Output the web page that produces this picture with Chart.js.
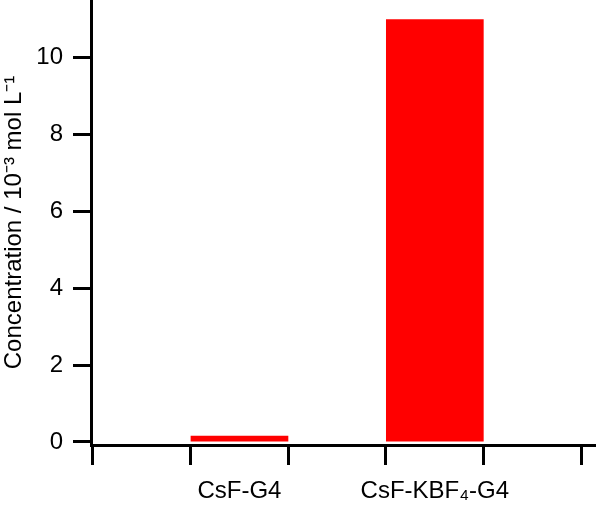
<!DOCTYPE html>
<html>
<head>
<meta charset="utf-8">
<script src="https://cdn.jsdelivr.net/npm/chart.js@4.4.0/dist/chart.umd.min.js"></script>
<style>
    html, body { margin: 0; padding: 0; background: #fff; }
    #wrap { width: 596px; height: 506px; }
</style>
</head>
<body>
<div id="wrap"><canvas id="chart" width="596" height="506"></canvas></div>
<script>
var categories = ['CsF-G4', 'CsF-KBF\u2084-G4'];
var slotPos = [1.5, 3.5];            // category centres on the x axis
var concentration = [0.16, 11.0];    // 10^-3 mol L^-1
var xBoundaries = [0, 1, 2, 3, 4, 5];
var yTicks = [0, 2, 4, 6, 8, 10];

var fontFamily = '"Liberation Sans", Arial, sans-serif';

var chart = new Chart(document.getElementById('chart'), {
    type: 'bar',
    data: {
        datasets: [{
            data: slotPos.map(function (x, i) { return { x: x, y: concentration[i] }; }),
            backgroundColor: '#ff0000',
            borderWidth: 0,
            barPercentage: 1,
            categoryPercentage: 2
        }]
    },
    options: {
        responsive: false,
        animation: false,
        layout: { padding: 0 },
        plugins: {
            legend: { display: false },
            tooltip: { enabled: false }
        },
        scales: {
            x: {
                type: 'linear',
                offset: false,
                min: -0.02,
                max: 5.15,
                afterBuildTicks: function (axis) {
                    var vals = xBoundaries.concat(slotPos).sort(function (a, b) { return a - b; });
                    axis.ticks = vals.map(function (v) { return { value: v }; });
                },
                afterFit: function (axis) {
                    axis.height = 61;
                    axis.paddingLeft = 0;
                    axis.paddingRight = 0;
                },
                ticks: {
                    autoSkip: false,
                    maxRotation: 0,
                    padding: 12,
                    color: '#000',
                    font: { family: fontFamily, size: 24 },
                    callback: function (value) {
                        var i = slotPos.indexOf(value);
                        return i >= 0 ? categories[i] : '';
                    }
                },
                grid: {
                    offset: false,
                    drawOnChartArea: false,
                    drawTicks: true,
                    tickLength: 20,
                    tickWidth: 3,
                    tickColor: function (ctx) {
                        return (ctx.tick && ctx.tick.value % 1 === 0) ? '#000' : 'rgba(0,0,0,0)';
                    }
                },
                border: { color: '#000', width: 3 }
            },
            y: {
                min: -0.08,
                max: 11.5,
                afterBuildTicks: function (axis) {
                    axis.ticks = yTicks.map(function (v) { return { value: v }; });
                },
                afterFit: function (axis) {
                    axis.width = 91;
                    axis.paddingTop = 0;
                    axis.paddingBottom = 0;
                },
                ticks: {
                    padding: 10,
                    color: '#000',
                    font: { family: fontFamily, size: 24 }
                },
                grid: {
                    drawOnChartArea: false,
                    drawTicks: true,
                    tickLength: 18,
                    tickWidth: 3,
                    tickColor: '#000'
                },
                border: { color: '#000', width: 3 },
                title: {
                    display: true,
                    text: 'Concentration / 10\u207B\u00B3 mol L\u207B\u00B9',
                    color: '#000',
                    font: { family: fontFamily, size: 24 },
                    padding: 0
                }
            }
        }
    }
});
</script>
</body>
</html>
